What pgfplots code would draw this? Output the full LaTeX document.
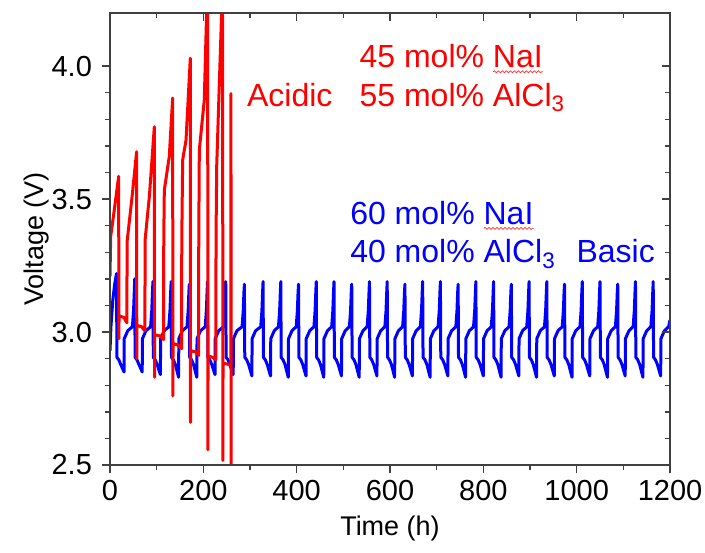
\documentclass[border=0pt]{standalone}
\usepackage{fontspec}
\setmainfont{Liberation Sans}
\usepackage{pgfplots}
\pgfplotsset{compat=1.18}
\usetikzlibrary{calc,decorations.pathmorphing}
\begin{document}
\begin{tikzpicture}
\pgfplotsset{
  base/.style={
    scale only axis, width=280pt, height=226pt,
    xmin=0, xmax=1200, ymin=2.5, ymax=4.2,
    axis line style={draw=black!75, line width=0.7pt},
    xtick={0,200,...,1200}, minor x tick num=1,
    ytick={2.5,3.0,3.5,4.0}, minor y tick num=4,
    major tick length=4pt, minor tick length=2.5pt,
    tick style={black!75, line width=0.7pt},
  }
}
\begin{axis}[base,
  xtick pos=left, ytick pos=left, tick align=outside,
  xticklabel style={/pgf/number format/1000 sep={}},
  yticklabel style={xshift=-1.5pt, /pgf/number format/.cd, fixed, fixed zerofill, precision=1},
  /pgf/number format/assume math mode=true,
  tick label style={font=\fontsize{14.5}{17}\selectfont},
  label style={font=\fontsize{13.5}{16}\selectfont},
  xlabel={Time (h)}, ylabel={Voltage (V)},
  xlabel style={at={(axis description cs:0.5,-0.14)}, anchor=center},
  ylabel style={at={(axis description cs:-0.132,0.5)}, anchor=center},
]
\addplot[blue, line width=1.5pt, line join=round] coordinates {
(0,2.93)(2,3.02)(6,3.12)(10,3.18)
(14,3.22)(14.8,2.905)(19,2.895)(23,2.878)(30,2.85)(30.5,2.975)(38,3.005)(48,3.02)(50.5,3.08)(52,3.15)
(53,3.20)(53.8,2.905)(58,2.895)(62,2.878)(69,2.85)(69.5,2.975)(77,3.005)(87,3.02)(89.5,3.08)(91,3.15)
(92,3.19)(92.8,2.905)(97,2.895)(101,2.878)(108,2.84)(108.5,2.975)(116,3.005)(126,3.02)(128.5,3.08)(130,3.15)
(131,3.19)(131.8,2.905)(136,2.895)(140,2.878)(147,2.83)(147.5,2.975)(155,3.005)(165,3.02)(167.5,3.08)(169,3.15)
(170,3.18)(170.8,2.905)(175,2.895)(179,2.878)(186,2.83)(186.5,2.975)(194,3.005)(204,3.02)(206.5,3.08)(208,3.15)
(209,3.19)(209.8,2.905)(214,2.895)(218,2.878)(225,2.84)(225.5,2.975)(233,3.005)(243,3.02)(245.5,3.08)(247,3.15)
(248,3.19)(248.8,2.905)(253,2.895)(257,2.878)(264,2.84)(264.5,2.975)(272,3.005)(283,3.02)(285.5,3.08)(287,3.15)
(288,3.18)(288.8,2.905)(293,2.895)(297,2.878)(304,2.835)(304.5,2.975)(312,3.005)(323,3.02)(325.5,3.08)(327,3.15)
(328,3.19)(328.8,2.905)(333,2.895)(337,2.878)(344,2.835)(344.5,2.975)(352,3.005)(361,3.02)(363.5,3.08)(365,3.15)
(366,3.19)(366.8,2.905)(371,2.895)(375,2.878)(382,2.83)(382.5,2.975)(390,3.005)(399,3.02)(401.5,3.08)(403,3.15)
(404,3.18)(404.8,2.905)(409,2.895)(413,2.878)(420,2.835)(420.5,2.975)(428,3.005)(437,3.02)(439.5,3.08)(441,3.15)
(442,3.19)(442.8,2.905)(447,2.895)(451,2.878)(458,2.83)(458.5,2.975)(466,3.005)(475,3.02)(477.5,3.08)(479,3.15)
(480,3.19)(480.8,2.905)(485,2.895)(489,2.878)(496,2.835)(496.5,2.975)(504,3.005)(513,3.02)(515.5,3.08)(517,3.15)
(518,3.18)(518.8,2.905)(523,2.895)(527,2.878)(534,2.83)(534.5,2.975)(542,3.005)(551,3.02)(553.5,3.08)(555,3.15)
(556,3.19)(556.8,2.905)(561,2.895)(565,2.878)(572,2.835)(572.5,2.975)(580,3.005)(589,3.02)(591.5,3.08)(593,3.15)
(594,3.19)(594.8,2.905)(599,2.895)(603,2.878)(610,2.83)(610.5,2.975)(618,3.005)(627,3.02)(629.5,3.08)(631,3.15)
(632,3.18)(632.8,2.905)(637,2.895)(641,2.878)(648,2.835)(648.5,2.975)(656,3.005)(665,3.02)(667.5,3.08)(669,3.15)
(670,3.19)(670.8,2.905)(675,2.895)(679,2.878)(686,2.83)(686.5,2.975)(694,3.005)(703,3.02)(705.5,3.08)(707,3.15)
(708,3.19)(708.8,2.905)(713,2.895)(717,2.878)(724,2.835)(724.5,2.975)(732,3.005)(741,3.02)(743.5,3.08)(745,3.15)
(746,3.18)(746.8,2.905)(751,2.895)(755,2.878)(762,2.83)(762.5,2.975)(770,3.005)(779,3.02)(781.5,3.08)(783,3.15)
(784,3.19)(784.8,2.905)(789,2.895)(793,2.878)(800,2.835)(800.5,2.975)(808,3.005)(817,3.02)(819.5,3.08)(821,3.15)
(822,3.19)(822.8,2.905)(827,2.895)(831,2.878)(838,2.83)(838.5,2.975)(846,3.005)(855,3.02)(857.5,3.08)(859,3.15)
(860,3.18)(860.8,2.905)(865,2.895)(869,2.878)(876,2.835)(876.5,2.975)(884,3.005)(893,3.02)(895.5,3.08)(897,3.15)
(898,3.19)(898.8,2.905)(903,2.895)(907,2.878)(914,2.83)(914.5,2.975)(922,3.005)(931,3.02)(933.5,3.08)(935,3.15)
(936,3.19)(936.8,2.905)(941,2.895)(945,2.878)(952,2.835)(952.5,2.975)(960,3.005)(969,3.02)(971.5,3.08)(973,3.15)
(974,3.18)(974.8,2.905)(979,2.895)(983,2.878)(990,2.83)(990.5,2.975)(998,3.005)(1007,3.02)(1009.5,3.08)(1011,3.15)
(1012,3.19)(1012.8,2.905)(1017,2.895)(1021,2.878)(1028,2.835)(1028.5,2.975)(1036,3.005)(1045,3.02)(1047.5,3.08)(1049,3.15)
(1050,3.19)(1050.8,2.905)(1055,2.895)(1059,2.878)(1066,2.83)(1066.5,2.975)(1074,3.005)(1083,3.02)(1085.5,3.08)(1087,3.15)
(1088,3.18)(1088.8,2.905)(1093,2.895)(1097,2.878)(1104,2.835)(1104.5,2.975)(1112,3.005)(1121,3.02)(1123.5,3.08)(1125,3.15)
(1126,3.19)(1126.8,2.905)(1131,2.895)(1135,2.878)(1142,2.83)(1142.5,2.975)(1150,3.005)(1159,3.02)(1161.5,3.08)(1163,3.15)
(1164,3.19)(1164.8,2.905)(1169,2.895)(1173,2.878)(1180,2.835)(1180.5,2.975)(1188,3.005)(1197,3.02)(1200,3.045)
};
\addplot[red, line width=1.5pt, line join=round] coordinates {
(0,3.21)(1.5,3.36)(10,3.47)(18.6,3.586)
(19,2.975)(19.4,3.061)(30,3.055)(33,3.045)(36.2,3.035)
(36.6,3.34)(48,3.52)(57,3.678)
(57.4,2.90)(57.8,3.025)(68,3.02)(71,3.012)(74.8,3.005)
(75.2,3.346)(80.7,3.446)(84.3,3.509)(95,3.772)
(95.4,2.83)(95.8,2.99)(108,2.985)(111,2.978)(114.8,2.972)
(115.2,3.346)(116.4,3.534)(127,3.66)(134.3,3.88)
(134.7,2.76)(135.1,2.957)(147,2.95)(150,2.943)(153.4,2.938)
(153.8,3.346)(155.7,3.647)(162.9,3.722)(172.1,4.03)
(172.5,2.66)(172.9,2.93)(184,2.925)(187,2.918)(189.8,2.912)
(190.2,3.346)(191.4,3.685)(202,3.872)(209.3,4.35)
(209.7,2.557)(210.1,2.91)(220,2.905)(223,2.9)(226.8,2.897)
(227.2,3.346)(228.6,3.622)(234.3,3.935)(241.4,4.32)
(241.8,2.517)(242.2,2.882)(252,2.88)(255,2.877)(258.8,2.875)
(259.2,3.897)(259.6,2.4)
};
\begin{scope}[font=\fontsize{16}{19}\selectfont, inner sep=0pt]
\node[text=red, anchor=base west] (t1) at (axis cs:534,3.994) {45 mol\% NaI};
\node[text=red, anchor=base west] (t2) at (axis cs:534,3.85) {55 mol\% AlCl\textsubscript{3}};
\node[text=red, anchor=base west] (t3) at (axis cs:293,3.85) {Acidic};
\node[text=blue, anchor=base west] (t4) at (axis cs:514,3.405) {60 mol\% NaI};
\node[text=blue, anchor=base west] (t5) at (axis cs:514,3.26) {40 mol\% AlCl\textsubscript{3}};
\node[text=blue, anchor=base west] (t6) at (axis cs:999,3.26) {Basic};
\end{scope}
\draw[red!80, line width=0.35pt, decorate, decoration={snake, amplitude=0.5pt, segment length=2pt}]
  ($(t1.base east)+(-25pt,-2pt)$) -- ($(t1.base east)+(0pt,-2pt)$);
\draw[red!80, line width=0.35pt, decorate, decoration={snake, amplitude=0.5pt, segment length=2pt}]
  ($(t4.base east)+(-25pt,-2pt)$) -- ($(t4.base east)+(0pt,-2pt)$);
\end{axis}
\begin{axis}[base,
  xtick pos=right, ytick pos=right, tick align=inside,
  xticklabels={}, yticklabels={},
]
\end{axis}
\pgfresetboundingbox
\path[use as bounding box] (-55pt,-43.5pt) rectangle (297.5pt,232.5pt);
\end{tikzpicture}
\end{document}
